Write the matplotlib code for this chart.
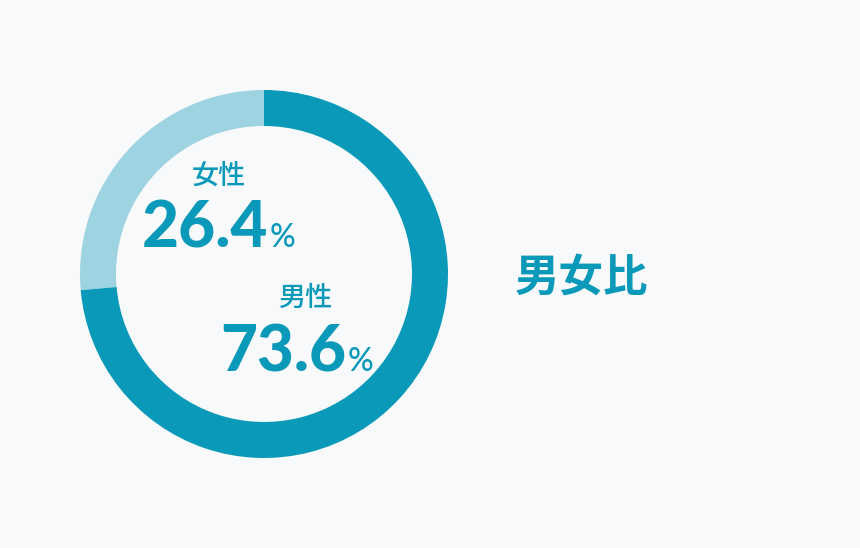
import numpy as np
import matplotlib
matplotlib.use('Agg')
import matplotlib.pyplot as plt

labels = ['女性', '男性']       # female, male
shares = [26.4, 73.6]           # percent
title = '男女比'

dark = '#0a99b8'
light = '#9ed3e1'
bg = '#f8f9fa'

fig = plt.figure(figsize=(8.6, 5.48), dpi=100)
fig.patch.set_facecolor(bg)
ax = fig.add_axes([0, 0, 1, 1])
ax.set_facecolor(bg)

# donut, women first going counter-clockwise from 12 o'clock
ax.pie(shares, colors=[light, dark], startangle=90, counterclock=True,
       center=(264, 274), radius=184,
       wedgeprops=dict(width=36, edgecolor='none', linewidth=0))
ax.set_xlim(0, 860)
ax.set_ylim(0, 548)
ax.set_aspect('equal')
ax.axis('off')

cjk = ['Noto Sans CJK JP', 'DejaVu Sans']
num = ['Lato', 'DejaVu Sans']

def Y(y):  # pixel row from top -> data y
    return 548 - y

# women label
ax.text(219, Y(176), labels[0], ha='center', va='center', fontsize=19.5,
        color=dark, family=cjk, fontweight='medium')
ax.text(268, Y(247), '%.1f' % shares[0], ha='right', va='baseline', fontsize=46,
        color=dark, family=num, fontweight='black')
ax.text(270, Y(247), '%', ha='left', va='baseline', fontsize=23,
        color=dark, family=num, fontweight='medium')

# men label
ax.text(305, Y(298), labels[1], ha='center', va='center', fontsize=19.5,
        color=dark, family=cjk, fontweight='medium')
ax.text(346, Y(371), '%.1f' % shares[1], ha='right', va='baseline', fontsize=46,
        color=dark, family=num, fontweight='black')
ax.text(348, Y(371), '%', ha='left', va='baseline', fontsize=23,
        color=dark, family=num, fontweight='medium')

ax.text(581, Y(278), title, ha='center', va='center', fontsize=32,
        color=dark, family=cjk, fontweight='bold')

fig.savefig('out.png', dpi=100, facecolor=bg)
